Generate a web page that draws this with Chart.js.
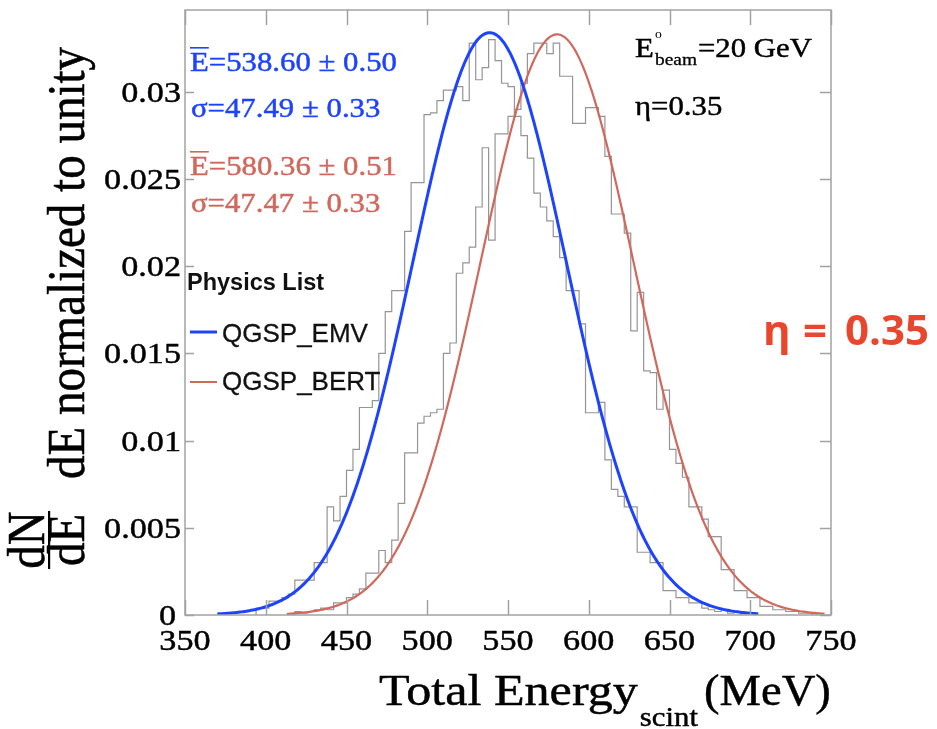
<!DOCTYPE html>
<html>
<head>
<meta charset="utf-8">
<script src="https://cdn.jsdelivr.net/npm/chart.js@4.4.1/dist/chart.umd.min.js"></script>
<style>
  html, body { margin: 0; padding: 0; background: #ffffff; }
  #wrap { position: relative; width: 937px; height: 729px; }
</style>
</head>
<body>
<div id="wrap"><canvas id="c" width="937" height="729"></canvas></div>
<script>
// ---- axis ticks ----
const xTicks = [350, 400, 450, 500, 550, 600, 650, 700, 750];
const xTickLabels = ['350', '400', '450', '500', '550', '600', '650', '700', '750'];
const yTicks = [0, 0.005, 0.01, 0.015, 0.02, 0.025, 0.03];
const yTickLabels = ['0', '0.005', '0.01', '0.015', '0.02', '0.025', '0.03'];

// ---- histograms: 4 MeV bins, values normalized to unity ----
const binWidth = 4;
const emvFirstEdge = 394;
const emvValues = [
  0.0002, 0.0004, 0.0004, 0.0008, 0.0008, 0.0010, 0.0012, 0.0020, 0.0020, 0.0020,
  0.0030, 0.0030, 0.0062, 0.0054, 0.0068, 0.0083, 0.0095, 0.0119, 0.0119, 0.0123,
  0.0150, 0.0174, 0.0186, 0.0186, 0.0220, 0.0248, 0.0248, 0.0287, 0.0288, 0.0295,
  0.0301, 0.0301, 0.0303, 0.0295, 0.0328, 0.0307, 0.0314, 0.0330, 0.0318, 0.0305,
  0.0303, 0.0286, 0.0275, 0.0262, 0.0242, 0.0234, 0.0226, 0.0217, 0.0205, 0.0186,
  0.0186, 0.0167, 0.0116, 0.0116, 0.0122, 0.0089, 0.0072, 0.0068, 0.0062, 0.0062,
  0.0036, 0.0036, 0.0030, 0.0030, 0.0014, 0.0014, 0.0010, 0.0010, 0.0007, 0.0007,
  0.0004, 0.0003, 0.0002, 0.0003, 0.0001, 0.0002
];
const bertFirstEdge = 414;
const bertValues = [
  0.0001, 0.0000, 0.0002, 0.0001, 0.0002, 0.0003, 0.0004, 0.0003, 0.0007, 0.0007,
  0.0010, 0.0012, 0.0015, 0.0024, 0.0024, 0.0037, 0.0030, 0.0043, 0.0064, 0.0093,
  0.0093, 0.0110, 0.0114, 0.0116, 0.0118, 0.0150, 0.0156, 0.0196, 0.0202, 0.0211,
  0.0234, 0.0268, 0.0215, 0.0276, 0.0276, 0.0286, 0.0290, 0.0305, 0.0322, 0.0328,
  0.0328, 0.0322, 0.0328, 0.0309, 0.0309, 0.0282, 0.0282, 0.0291, 0.0291, 0.0286,
  0.0263, 0.0230, 0.0230, 0.0219, 0.0163, 0.0185, 0.0140, 0.0139, 0.0118, 0.0129,
  0.0095, 0.0087, 0.0079, 0.0062, 0.0062, 0.0055, 0.0045, 0.0045, 0.0026, 0.0026,
  0.0014, 0.0014, 0.0010, 0.0010, 0.0005, 0.0005, 0.0003, 0.0003, 0.0002, 0.0002,
  0.0001, 0.0001
];

// ---- Gaussian fit results (mean, sigma, peak height, fit range) ----
const emvFitParams = [538.60, 47.49, 0.0334];
const emvFitRange = [370, 705];
const bertFitParams = [580.36, 47.47, 0.0333];
const bertFitRange = [413, 746];

// ---- colours ----
const BLUE = '#1d43ff';
const RED = '#d0685c';
const HIST_GRAY = '#959595';

function histOutline(firstEdge, values) {
  const pts = [{ x: firstEdge, y: 0 }];
  values.forEach((v, i) => pts.push({ x: firstEdge + i * binWidth, y: v }));
  pts.push({ x: firstEdge + values.length * binWidth, y: 0 });
  return pts;
}

function gaussCurve(params, range) {
  const [mean, sigma, peak] = params;
  const pts = [];
  for (let e = range[0]; e <= range[1]; e += 1) {
    pts.push({ x: e, y: peak * Math.exp(-0.5 * Math.pow((e - mean) / sigma, 2)) });
  }
  return pts;
}

// text helper: horizontal stretch plus an optional thin outline for weight
function txt(ctx, s, x, y, font, color, sx, align, sw) {
  ctx.save();
  ctx.font = font;
  ctx.fillStyle = color;
  ctx.strokeStyle = color;
  ctx.textAlign = 'left';
  ctx.textBaseline = 'alphabetic';
  const w = ctx.measureText(s).width * sx;
  let x0 = x;
  if (align === 'right') x0 = x - w;
  else if (align === 'center') x0 = x - w / 2;
  ctx.translate(x0, y);
  ctx.scale(sx, 1);
  ctx.fillText(s, 0, 0);
  if (sw) { ctx.lineWidth = sw; ctx.lineJoin = 'round'; ctx.strokeText(s, 0, 0); }
  ctx.restore();
  return w;
}

const SERIF = '"Liberation Serif", "Times New Roman", serif';
const SANS = '"Liberation Sans", Arial, sans-serif';
const SX = 1.14;
const SW = 0.45;

const decorations = {
  id: 'decorations',
  afterDatasetsDraw(chart) {
    const { ctx, chartArea: a, scales: { x, y } } = chart;
    ctx.save();

    // frame and inward ticks
    ctx.strokeStyle = '#a2a2a2';
    ctx.lineWidth = 1.5;
    ctx.strokeRect(a.left, a.top, a.right - a.left, a.bottom - a.top);
    ctx.beginPath();
    xTicks.forEach(v => {
      const px = Math.round(x.getPixelForValue(v)) + 0.5;
      ctx.moveTo(px, a.bottom); ctx.lineTo(px, a.bottom - 15);
      ctx.moveTo(px, a.top); ctx.lineTo(px, a.top + 15);
    });
    yTicks.forEach(v => {
      const py = Math.round(y.getPixelForValue(v)) + 0.5;
      ctx.moveTo(a.left, py); ctx.lineTo(a.left + 9, py);
      ctx.moveTo(a.right, py); ctx.lineTo(a.right - 11, py);
    });
    ctx.stroke();

    // tick labels
    const tlFont = '30px ' + SERIF;
    xTicks.forEach((v, i) => {
      txt(ctx, xTickLabels[i], x.getPixelForValue(v), 650, tlFont, '#000', SX, 'center', SW);
    });
    yTicks.forEach((v, i) => {
      const py = y.getPixelForValue(v);
      if (v === 0) txt(ctx, yTickLabels[i], 176, py + 10, tlFont, '#000', SX, 'right', SW);
      else txt(ctx, yTickLabels[i], 181, py + 10, tlFont, '#000', SX, 'right', SW);
    });

    // x-axis title
    const xtFont = '44px ' + SERIF;
    let cx = 379;
    cx += txt(ctx, 'Total Energy', cx, 705, xtFont, '#000', SX, 'left', SW);
    cx += 2;
    cx += txt(ctx, 'scint', cx, 726, '27px ' + SERIF, '#000', SX, 'left', SW);
    cx += 6;
    txt(ctx, '(MeV)', cx, 705, xtFont, '#000', 1.06, 'left', SW);

    // y-axis title (rotated, reads bottom to top)
    ctx.save();
    ctx.rotate(-Math.PI / 2);
    ctx.fillStyle = '#000';
    ctx.strokeStyle = '#000';
    ctx.lineWidth = SW;
    ctx.textBaseline = 'alphabetic';
    const ytFont = '47px ' + SERIF;
    const fc = -540;
    const putRot = (s, lx, ly, font, align) => {
      ctx.save();
      ctx.font = font;
      ctx.textAlign = align;
      ctx.translate(lx, ly);
      ctx.scale(1, SX);
      ctx.fillText(s, 0, 0);
      ctx.strokeText(s, 0, 0);
      ctx.restore();
    };
    putRot('dN', fc, 44, ytFont, 'center');
    putRot('dE', fc, 84, ytFont, 'center');
    ctx.fillRect(fc - 29, 48, 58, 2.2);
    putRot('dE normalized to unity', -479, 84, ytFont, 'left');
    ctx.restore();

    // fit statistics
    const stFont = '27px ' + SERIF;
    let w = txt(ctx, 'E', 190, 71, stFont, BLUE, SX, 'left', SW);
    ctx.fillStyle = BLUE; ctx.fillRect(190, 47, w, 1.6);
    txt(ctx, '=538.60 \u00b1 0.50', 190 + w, 71, stFont, BLUE, SX, 'left', SW);
    txt(ctx, '\u03c3=47.49 \u00b1 0.33', 191, 117, stFont, BLUE, SX, 'left', SW);
    w = txt(ctx, 'E', 190, 175, stFont, RED, SX, 'left', SW);
    ctx.fillStyle = RED; ctx.fillRect(190, 151, w, 1.6);
    txt(ctx, '=580.36 \u00b1 0.51', 190 + w, 175, stFont, RED, SX, 'left', SW);
    txt(ctx, '\u03c3=47.47 \u00b1 0.33', 191, 212, stFont, RED, SX, 'left', SW);

    // beam info
    txt(ctx, 'E', 635, 57, stFont, '#000', SX, 'left', SW);
    txt(ctx, 'o', 655, 38, '12px ' + SERIF, '#000', SX, 'left');
    const wb = txt(ctx, 'beam', 655, 65, '17px ' + SERIF, '#000', SX, 'left', 0.3);
    txt(ctx, '=20 GeV', 655 + wb + 1, 57, stFont, '#000', SX, 'left', SW);
    txt(ctx, '\u03b7=0.35', 635, 115, stFont, '#000', SX, 'left', SW);

    // legend
    txt(ctx, 'Physics List', 187, 290, 'bold 23.5px ' + SANS, '#111', 1, 'left');
    ctx.lineCap = 'butt';
    ctx.strokeStyle = BLUE; ctx.lineWidth = 3;
    ctx.beginPath(); ctx.moveTo(190, 332); ctx.lineTo(217, 332); ctx.stroke();
    ctx.strokeStyle = RED; ctx.lineWidth = 2;
    ctx.beginPath(); ctx.moveTo(190, 382); ctx.lineTo(217, 382); ctx.stroke();
    txt(ctx, 'QGSP_EMV', 222, 342, '26px ' + SANS, '#111', 1, 'left', 0.3);
    txt(ctx, 'QGSP_BERT', 222, 390, '26px ' + SANS, '#111', 1, 'left', 0.3);

    ctx.restore();
  },
  afterDraw(chart) {
    const { ctx } = chart;
    // eta label beside the frame
    const f = 'bold 42px "Open Sans", sans-serif';
    const c = '#e8472d';
    txt(ctx, '\u03b7', 763, 345, f, c, 1, 'left');
    txt(ctx, '=', 803, 345, f, c, 1, 'left');
    txt(ctx, '0.35', 845, 345, f, c, 1, 'left');
  }
};

new Chart(document.getElementById('c'), {
  type: 'scatter',
  data: {
    datasets: [
      {
        label: 'QGSP_EMV fit',
        data: gaussCurve(emvFitParams, emvFitRange),
        showLine: true, borderColor: BLUE, borderWidth: 3,
        pointRadius: 0, tension: 0, order: 0
      },
      {
        label: 'QGSP_BERT fit',
        data: gaussCurve(bertFitParams, bertFitRange),
        showLine: true, borderColor: RED, borderWidth: 2.2,
        pointRadius: 0, tension: 0, order: 1
      },
      {
        label: 'QGSP_EMV',
        data: histOutline(emvFirstEdge, emvValues),
        showLine: true, stepped: 'after', borderColor: HIST_GRAY, borderWidth: 1.2,
        pointRadius: 0, order: 2
      },
      {
        label: 'QGSP_BERT',
        data: histOutline(bertFirstEdge, bertValues),
        showLine: true, stepped: 'after', borderColor: HIST_GRAY, borderWidth: 1.2,
        pointRadius: 0, order: 3
      }
    ]
  },
  options: {
    responsive: false,
    animation: false,
    devicePixelRatio: 1,
    layout: { padding: { left: 0, right: 106, top: 10, bottom: 0 } },
    plugins: { legend: { display: false }, tooltip: { enabled: false }, title: { display: false } },
    scales: {
      x: {
        type: 'linear', min: 350, max: 750,
        grid: { display: false, drawTicks: false },
        border: { display: false },
        ticks: { display: false },
        afterBuildTicks: s => { s.ticks = xTicks.map(v => ({ value: v })); },
        afterFit: s => { s.height = 114; }
      },
      y: {
        type: 'linear', min: 0, max: 0.0347,
        grid: { display: false, drawTicks: false },
        border: { display: false },
        ticks: { display: false },
        afterBuildTicks: s => { s.ticks = yTicks.map(v => ({ value: v })); },
        afterFit: s => { s.width = 185; }
      }
    }
  },
  plugins: [decorations]
});
</script>
</body>
</html>
